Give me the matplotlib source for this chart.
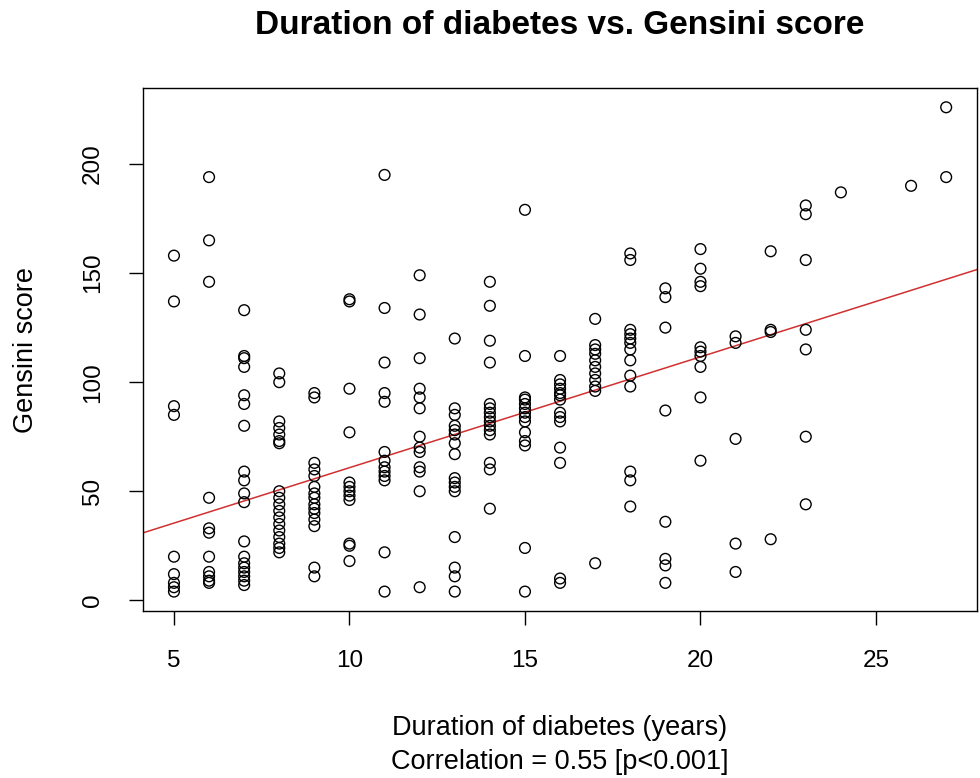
import numpy as np
import matplotlib
matplotlib.use("Agg")
import matplotlib.pyplot as plt

# Gensini scores grouped by duration of diabetes (years)
durations = [5, 6, 7, 8, 9, 10, 11, 12, 13, 14, 15, 16, 17, 18, 19, 20, 21, 22, 23, 24, 26, 27]
scores_by_duration = [
    [158, 137, 89, 85, 20, 12, 8, 6, 4],
    [194, 165, 146, 47, 33, 31, 20, 13, 11, 9, 8],
    [133, 112, 111, 107, 94, 90, 80, 59, 55, 49, 45, 27, 20, 17, 15, 13, 11, 9, 7],
    [104, 100, 82, 79, 76, 73, 72, 50, 47, 44, 41, 38, 35, 32, 29, 26, 24, 22],
    [95, 93, 63, 60, 57, 52, 49, 47, 44, 42, 40, 37, 34, 15, 11],
    [138, 137, 97, 77, 54, 52, 50, 48, 46, 26, 25, 18],
    [195, 134, 109, 95, 91, 68, 64, 61, 59, 57, 55, 22, 4],
    [149, 131, 111, 97, 93, 88, 75, 70, 68, 61, 59, 50, 6],
    [120, 88, 85, 80, 78, 76, 72, 67, 56, 54, 52, 50, 29, 15, 11, 4],
    [146, 135, 119, 109, 90, 88, 86, 84, 82, 80, 78, 76, 63, 60, 42],
    [179, 112, 93, 92, 90, 88, 86, 84, 82, 77, 73, 71, 24, 4],
    [112, 101, 99, 97, 95, 94, 92, 86, 84, 82, 70, 63, 10, 8],
    [129, 117, 115, 113, 110, 107, 104, 101, 98, 96, 17],
    [159, 156, 124, 122, 120, 118, 115, 110, 103, 98, 59, 55, 43],
    [143, 139, 125, 87, 36, 19, 16, 8],
    [161, 152, 146, 144, 116, 114, 112, 107, 93, 64],
    [121, 118, 74, 26, 13],
    [160, 124, 123, 28],
    [181, 177, 156, 124, 115, 75, 44],
    [187],
    [190],
    [226, 194],
]

# fitted line as drawn in the original
fit_intercept = 10.0
fit_slope = 5.08

x_ticks = [5, 10, 15, 20, 25]
y_ticks = [0, 50, 100, 150, 200]

x = []
y = []
for d, scores in zip(durations, scores_by_duration):
    x += [d] * len(scores)
    y += scores
x = np.array(x, dtype=float)
y = np.array(y, dtype=float)

plt.rcParams['font.family'] = ['Liberation Sans', 'DejaVu Sans']

fig = plt.figure(figsize=(9.8, 7.78), dpi=100)
ax = fig.add_axes([0.146, 0.2147, 0.851, 0.6723])

ax.scatter(x, y, s=60, facecolors='none', edgecolors='black', linewidths=1.0, zorder=3)
ax.axline((0, fit_intercept), slope=fit_slope, color='#d03030', lw=1.1, zorder=2)

# R style ranges: data range padded by 4%
xpad = (x.max() - x.min()) * 0.04
ypad = (y.max() - y.min()) * 0.04
ax.set_xlim(x.min() - xpad, x.max() + xpad)
ax.set_ylim(y.min() - ypad, y.max() + ypad)

ax.set_xticks(x_ticks)
ax.set_yticks(y_ticks)
ax.tick_params(direction='out', length=10, width=1, labelsize=17.5, colors='black', pad=18)
for lab in ax.get_yticklabels():
    lab.set_rotation(90)
    lab.set_va('center')
for sp in ax.spines.values():
    sp.set_linewidth(1.0)

fig.text(0.5714, 0.967, "Duration of diabetes vs. Gensini score", ha='center', va='center',
         fontsize=24, fontweight='bold')
fig.text(0.5714, 0.064, "Duration of diabetes (years)", ha='center', va='center', fontsize=19.5)
fig.text(0.5714, 0.021, "Correlation = 0.55 [p<0.001]", ha='center', va='center', fontsize=19.5)
fig.text(0.027, 0.55, "Gensini score", ha='center', va='center', rotation=90, fontsize=19.5)

fig.savefig("out.png", dpi=100)
